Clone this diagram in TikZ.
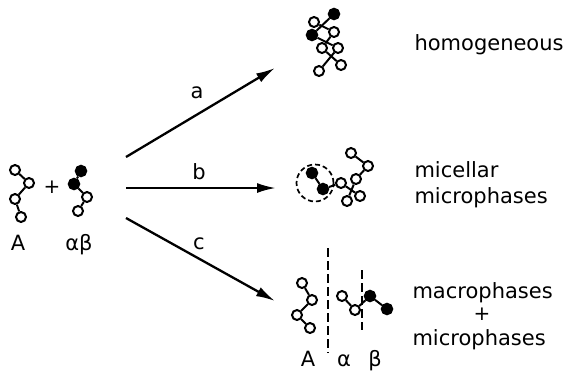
\documentclass[tikz,border=0pt]{standalone}
\usepackage{fontspec}
\setmainfont{DejaVu Sans}
\usepackage{tikz}
\usetikzlibrary{arrows.meta,positioning}

\tikzset{
    atom/.style={circle, draw, line width=2pt, fill=white, inner sep=0pt, minimum size=10pt},
    batom/.style={atom, fill=black, minimum size=10.5pt},
    bond/.style={line width=2pt},
    react/.style={line width=2.3pt, -{Latex[length=19pt,width=10pt]}},
    sep/.style={line width=1.8pt, dash pattern=on 9pt off 4pt},
    phase/.style={anchor=base west, font=\fontsize{21}{25}\selectfont},
    lbl/.style={anchor=base, font=\fontsize{21}{25}\selectfont}
}

\begin{document}
\begin{tikzpicture}[x=1pt,y=-1pt]
        \useasboundingbox (0,0) rectangle (571,373);
        % homopolymer A
        \node[atom] (a1) at (15,170) {};
        \node[atom] (a2) at (29,183) {};
        \node[atom] (a3) at (15,199) {};
        \node[atom] (a4) at (21,217) {};
        \draw[bond] (a1) -- (a2) -- (a3) -- (a4);
        \node[lbl] (la) at (18,250) {A};
        \node[font=\fontsize{20}{24}\selectfont] (plus) at (52,187) {+};
        % copolymer alpha-beta
        \node[batom] (b1) at (81,171) {};
        \node[batom] (b2) at (74,184) {};
        \node[atom] (b3) at (87,197) {};
        \node[atom] (b4) at (78,211) {};
        \draw[bond] (b1) -- (b2) -- (b3) -- (b4);
        \node[lbl] (lab) at (79,250) {αβ};
        % the three routes
        \coordinate (sa) at (126,157);
        \coordinate (ea) at (275,68);
        \coordinate (sb) at (126,188);
        \coordinate (eb) at (276,188);
        \coordinate (sc) at (126,218);
        \coordinate (ec) at (275,301);
        \draw[react] (sa) -- (ea);
        \draw[react] (sb) -- (eb);
        \draw[react] (sc) -- (ec);
        \node[lbl] (ra) at (197,98) {a};
        \node[lbl] (rb) at (199,179) {b};
        \node[lbl] (rc) at (199,249) {c};
        % homogeneous blend
        \node[batom] (h1) at (334,14) {};
        \node[atom] (h2) at (314,22) {};
        \node[batom] (h3) at (312,35) {};
        \node[atom] (h4) at (334,32) {};
        \node[atom] (h5) at (322,48) {};
        \node[atom] (h6) at (338,48) {};
        \node[atom] (h7) at (341,65) {};
        \node[atom] (h8) at (319,71) {};
        \draw[bond] (h2) -- (h4) -- (h5) -- (h7);
        \draw[bond] (h1) -- (h3) -- (h6) -- (h8);
        \node[phase] (thom) at (411,50) {homogeneous};
        % micelle
        \node[batom] (m1) at (312,173) {};
        \node[batom] (m2) at (323,189) {};
        \node[atom] (m3) at (341,183) {};
        \node[atom] (m4) at (360,196) {};
        \node[atom] (m5) at (351,153) {};
        \node[atom] (m6) at (368,166) {};
        \node[atom] (m7) at (356,179) {};
        \node[atom] (m8) at (347,201) {};
        \draw[bond] (m1) -- (m2) -- (m3) -- (m4);
        \draw[bond] (m5) -- (m6) -- (m7) -- (m8);
        \node[circle, draw, line width=1.7pt, dash pattern=on 5pt off 3pt, minimum size=37pt] (core) at (315,183) {};
        \node[phase] (tmic) at (411,177) {micellar};
        \node[phase] (tmic2) at (411,203) {microphases};
        % macro + micro separation
        \node[atom] (c1) at (302,283) {};
        \node[atom] (c2) at (312,300) {};
        \node[atom] (c3) at (297,315) {};
        \node[atom] (c4) at (310,328) {};
        \draw[bond] (c1) -- (c2) -- (c3) -- (c4);
        \node[atom] (d1) at (342,296) {};
        \node[atom] (d2) at (355,310) {};
        \node[batom] (d3) at (370,296) {};
        \node[batom] (d4) at (387,309) {};
        \draw[bond] (d1) -- (d2) -- (d3) -- (d4);
        \coordinate (w1) at (328,248);
        \coordinate (w2) at (328,353);
        \coordinate (w3) at (362,270);
        \coordinate (w4) at (362,330);
        \draw[sep] (w1) -- (w2);
        \draw[sep] (w3) -- (w4);
        \node[lbl] (lA) at (308,366) {A};
        \node[lbl] (lal) at (344,366) {α};
        \node[lbl] (lbe) at (375,366) {β};
        \node[phase] (tmac) at (409,298) {macrophases};
        \node[font=\fontsize{20}{24}\selectfont] (tplus) at (482,314) {+};
        \node[phase] (tmic3) at (409,345) {microphases};
    \end{tikzpicture}
\end{document}
